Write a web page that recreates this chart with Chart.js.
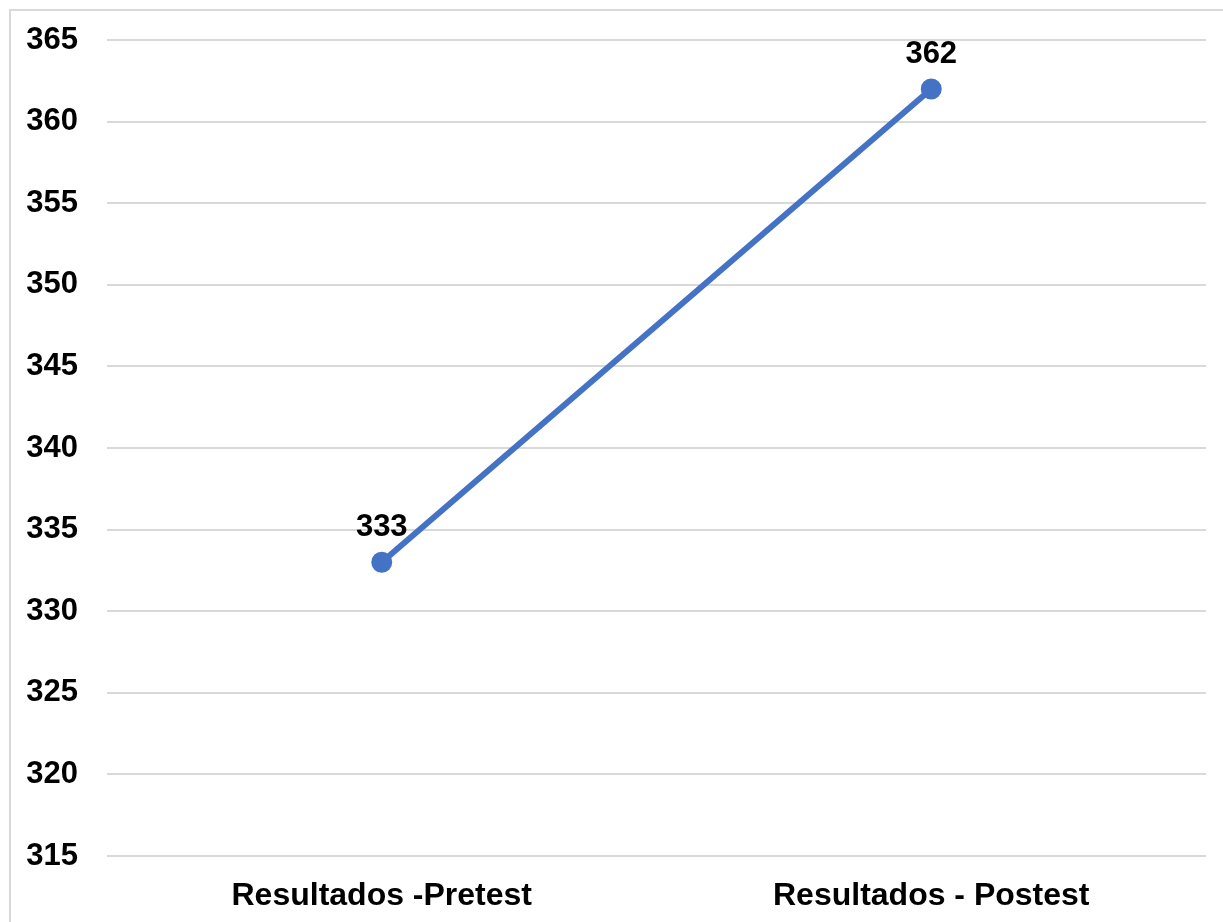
<!DOCTYPE html>
<html>
<head>
<meta charset="utf-8">
<script src="https://cdn.jsdelivr.net/npm/chart.js@4/dist/chart.umd.min.js"></script>
<style>
  html, body { margin: 0; padding: 0; background: #ffffff; overflow: hidden; }
  #frame { position: absolute; left: 9px; top: 9px; width: 1400px; height: 1100px; border: 2px solid #d9d9d9; box-sizing: border-box; }
  #wrap { position: absolute; left: 0; top: 0; width: 1223px; height: 922px; }
</style>
</head>
<body>
<div id="frame"></div>
<div id="wrap"><canvas id="chart" width="1223" height="922"></canvas></div>
<script>
// Categories and scores
const categories = ['Resultados -Pretest', 'Resultados - Postest'];
const scores = [333, 362];
const yMin = 315;
const yMax = 365;
const yStep = 5;

const FONT = 'Liberation Sans, Arial, sans-serif';

// Writes each point's value above its marker
const valueLabels = {
  id: 'valueLabels',
  afterDatasetsDraw(chart) {
    const ctx = chart.ctx;
    const meta = chart.getDatasetMeta(0);
    ctx.save();
    ctx.font = 'bold 31px ' + FONT;
    ctx.fillStyle = '#000000';
    ctx.textAlign = 'center';
    ctx.textBaseline = 'middle';
    meta.data.forEach((pt, i) => {
      ctx.fillText(String(chart.data.datasets[0].data[i]), pt.x, pt.y - 35);
    });
    ctx.restore();
  }
};

new Chart(document.getElementById('chart'), {
  type: 'line',
  data: {
    labels: categories,
    datasets: [{
      data: scores,
      borderColor: '#4472C4',
      backgroundColor: '#4472C4',
      borderWidth: 6,
      pointRadius: 7.5,
      pointHoverRadius: 7.5,
      pointBackgroundColor: '#4472C4',
      pointBorderColor: '#4472C4',
      tension: 0
    }]
  },
  options: {
    responsive: false,
    animation: false,
    layout: { padding: { top: 40, right: 17, bottom: 0, left: 10 } },
    plugins: { legend: { display: false }, tooltip: { enabled: false } },
    scales: {
      x: {
        offset: true,
        grid: { display: false, drawTicks: false },
        border: { display: false },
        ticks: { color: '#000000', font: { family: FONT, size: 32, weight: 'bold' }, padding: 21, maxRotation: 0 },
        afterFit(scale) { scale.height = 66; }
      },
      y: {
        min: yMin,
        max: yMax,
        grid: { color: '#d9d9d9', lineWidth: 2, drawTicks: false },
        border: { display: false },
        ticks: { stepSize: yStep, color: '#000000', font: { family: FONT, size: 31, weight: 'bold' }, padding: 29 },
        afterFit(scale) {
          scale.width = 97;
          scale.paddingTop = 0;
          scale.paddingBottom = 0;
        }
      }
    }
  },
  plugins: [valueLabels]
});
</script>
</body>
</html>
